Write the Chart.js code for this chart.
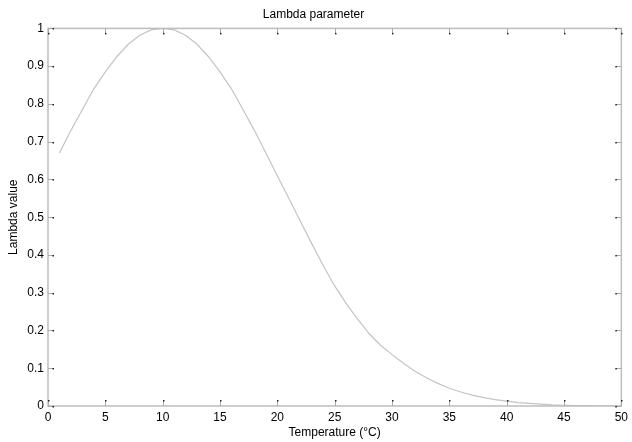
<!DOCTYPE html>
<html>
<head>
<meta charset="utf-8">
<script src="https://cdn.jsdelivr.net/npm/chart.js@4/dist/chart.umd.min.js"></script>
<style>
  html, body { margin: 0; padding: 0; background: #fff; }
  #wrap { width: 632px; height: 442px; }
</style>
</head>
<body>
<div id="wrap"><canvas id="myChart"></canvas></div>
<script>
    // temperature (°C) and lambda values
    const temperature = [1, 2, 3, 4, 5, 6, 7, 8, 9, 10,
        11, 12, 13, 14, 15, 16, 17, 18, 19, 20,
        21, 22, 23, 24, 25, 26, 27, 28, 29, 30,
        31, 32, 33, 34, 35, 36, 37, 38, 39, 40,
        41, 42, 43, 44, 45, 46, 47, 48, 49, 50];
    const lambda = [0.67, 0.73, 0.785, 0.84, 0.885, 0.925, 0.958, 0.982, 0.996, 1.0,
        0.996, 0.982, 0.958, 0.925, 0.885, 0.84, 0.785, 0.73, 0.67, 0.61,
        0.55, 0.49, 0.43, 0.372, 0.318, 0.272, 0.23, 0.192, 0.161, 0.136,
        0.113, 0.092, 0.075, 0.06, 0.047, 0.037, 0.029, 0.022, 0.017, 0.013,
        0.009, 0.007, 0.005, 0.003, 0.002, 0.001, 0.001, 0.0005, 0.0002, 0.0];
    const xTicks = [0, 5, 10, 15, 20, 25, 30, 35, 40, 45, 50];
    const yTicks = [0, 0.1, 0.2, 0.3, 0.4, 0.5, 0.6, 0.7, 0.8, 0.9, 1];

    const points = temperature.map((t, i) => ({x: t, y: lambda[i]}));

    // matlab style box with inward ticks on all four sides
    const boxPlugin = {
        id: 'box',
        afterDraw(chart) {
            const ctx = chart.ctx;
            const a = chart.chartArea;
            const xs = chart.scales.x, ys = chart.scales.y;
            ctx.save();
            ctx.strokeStyle = '#bdbdbd';
            ctx.lineWidth = 1.5;
            ctx.strokeRect(a.left, a.top, a.right - a.left, a.bottom - a.top);
            ctx.lineWidth = 1;
            xTicks.forEach(v => {
                const px = Math.round(xs.getPixelForValue(v)) + 0.5;
                ctx.strokeStyle = '#aaa';
                ctx.beginPath();
                ctx.moveTo(px, a.bottom); ctx.lineTo(px, a.bottom - 5);
                ctx.moveTo(px, a.top); ctx.lineTo(px, a.top + 5);
                ctx.stroke();
                ctx.fillStyle = '#222';
                ctx.fillRect(px - 0.5, a.bottom - 6, 1.5, 1.5);
                ctx.fillRect(px - 0.5, a.top + 4.5, 1.5, 1.5);
            });
            yTicks.forEach(v => {
                const py = Math.round(ys.getPixelForValue(v)) + 0.5;
                ctx.strokeStyle = '#aaa';
                ctx.beginPath();
                ctx.moveTo(a.left, py); ctx.lineTo(a.left + 5, py);
                ctx.moveTo(a.right, py); ctx.lineTo(a.right - 5, py);
                ctx.stroke();
                ctx.fillStyle = '#222';
                ctx.fillRect(a.left + 4.5, py - 0.5, 1.5, 1.5);
                ctx.fillRect(a.right - 6, py - 0.5, 1.5, 1.5);
            });
            ctx.restore();
        }
    };

    const font = {family: '"Liberation Sans", Arial, sans-serif', size: 12};

    const config = {
        type: 'line',
        data: {
            datasets: [{
                label: 'Lambda',
                data: points,
                borderColor: '#c4c4c4',
                borderWidth: 1.2,
                pointRadius: 0,
                tension: 0,
                fill: false
            }]
        },
        options: {
            responsive: true,
            maintainAspectRatio: false,
            animation: false,
            layout: {padding: {left: 0, right: 5, top: 0, bottom: 0}},
            plugins: {
                legend: {display: false},
                tooltip: {enabled: false},
                title: {
                    display: true,
                    text: 'Lambda parameter',
                    color: '#000',
                    font: {family: font.family, size: 12, weight: 'normal'},
                    padding: {top: 7, bottom: 7}
                }
            },
            scales: {
                x: {
                    type: 'linear',
                    min: 0,
                    max: 50,
                    afterFit: s => { s.height = 36; },
                    afterBuildTicks: s => { s.ticks = xTicks.map(v => ({value: v})); },
                    ticks: {color: '#000', font: font, padding: 4, maxRotation: 0, callback: v => String(v)},
                    grid: {display: false, drawTicks: false},
                    border: {display: false},
                    title: {display: true, text: 'Temperature (°C)', color: '#000', font: font, padding: {top: 0, bottom: 2}}
                },
                y: {
                    type: 'linear',
                    min: 0,
                    max: 1,
                    afterFit: s => { s.width = 48; },
                    afterBuildTicks: s => { s.ticks = yTicks.map(v => ({value: v})); },
                    ticks: {color: '#000', font: font, padding: 4, callback: v => String(v)},
                    grid: {display: false, drawTicks: false},
                    border: {display: false},
                    title: {display: true, text: 'Lambda value', color: '#000', font: font, padding: {top: 6, bottom: 0}}
                }
            }
        },
        plugins: [boxPlugin]
    };

    const myChart = new Chart(document.getElementById('myChart'), config);
</script>
</body>
</html>
